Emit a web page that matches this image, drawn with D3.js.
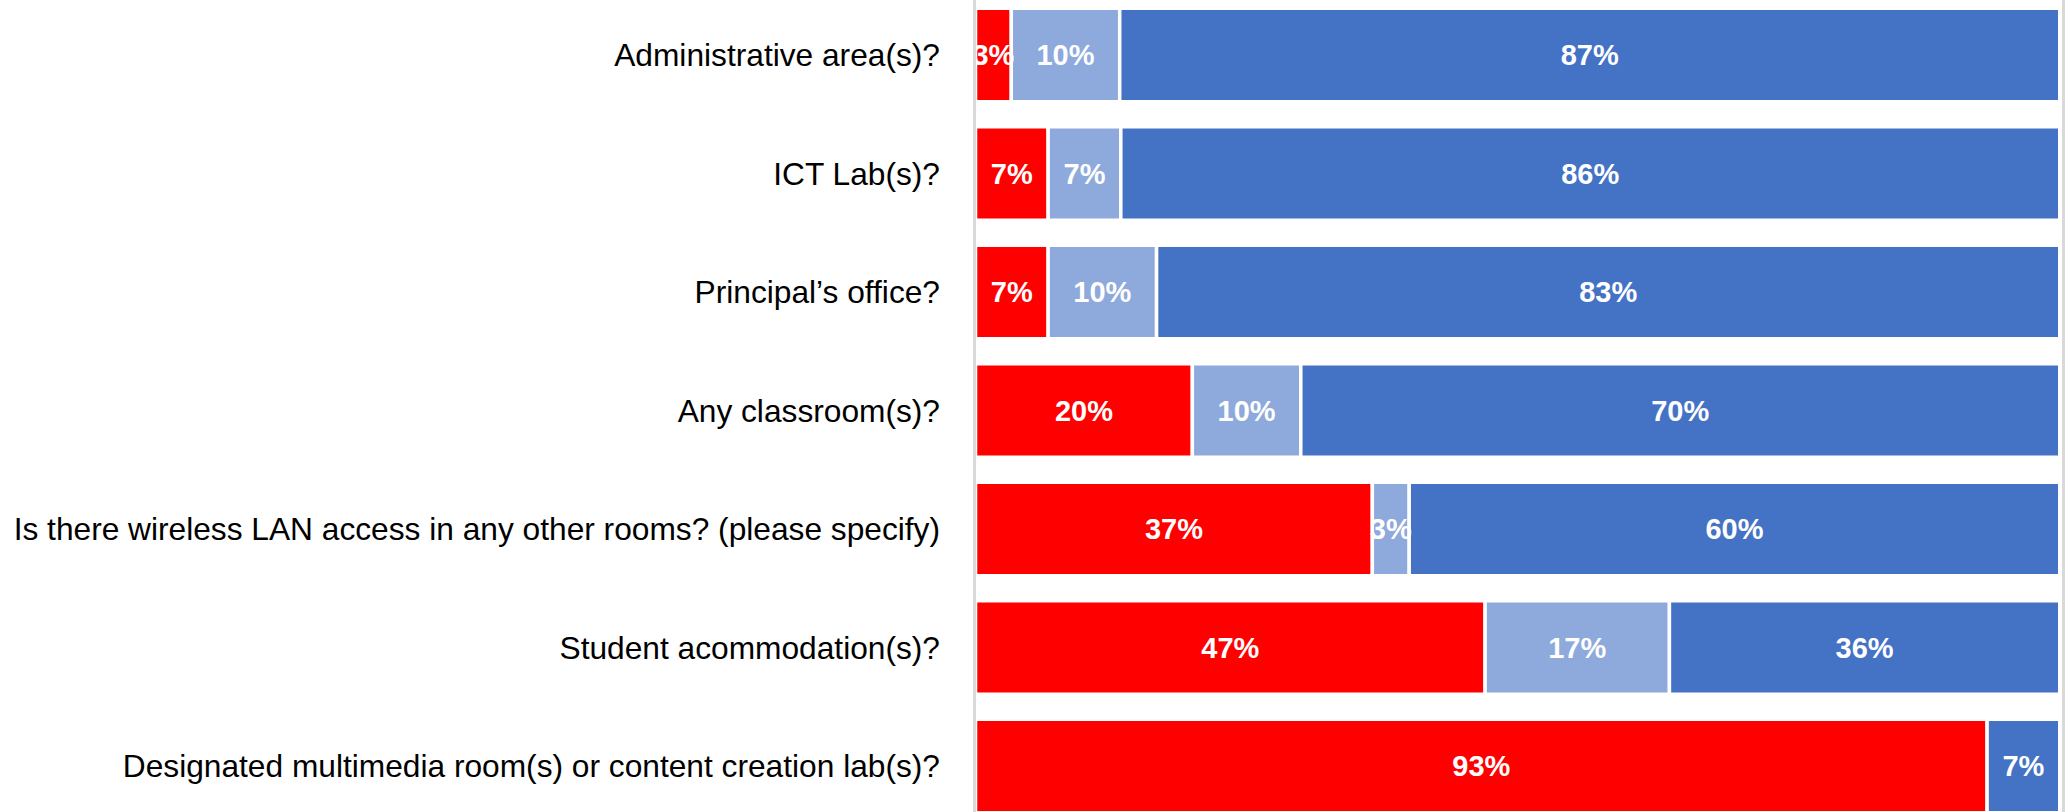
<!DOCTYPE html>
<html>
<head>
<meta charset="utf-8">
<script src="https://cdn.jsdelivr.net/npm/d3@7"></script>
<style>
  html, body { margin: 0; padding: 0; background: #fff; }
  svg { display: block; }
</style>
</head>
<body>
<script>
// questions, top to bottom
var categories = [
  "Administrative area(s)?",
  "ICT Lab(s)?",
  "Principal\u2019s office?",
  "Any classroom(s)?",
  "Is there wireless LAN access in any other rooms? (please specify)",
  "Student acommodation(s)?",
  "Designated multimedia room(s) or content creation lab(s)?"
];

// percent of answers per question (bar widths)
var noValues = [3.3, 6.7, 6.7, 20, 36.6, 47, 93.3];
var dontKnowValues = [10, 6.7, 10, 10, 3.4, 17, 0];
var yesValues = [86.7, 86.6, 83.3, 70, 60, 36, 6.7];

// the data labels as printed on the bars
var noLabels = ["3%", "7%", "7%", "20%", "37%", "47%", "93%"];
var dontKnowLabels = ["10%", "7%", "10%", "10%", "3%", "17%", ""];
var yesLabels = ["87%", "86%", "83%", "70%", "60%", "36%", "7%"];

var seriesNames = ["No", "Don't know", "Yes"];
var seriesColors = ["#ff0000", "#8ea9db", "#4472c4"];

(function() {
  var width = 2065;
  var height = 812;

  var svg = d3.select("body")
    .append("svg")
    .attr("width", width)
    .attr("height", height)

  var rows = categories.map(function(c, i) {
    return {
      question: c,
      No: noValues[i], "Don't know": dontKnowValues[i], Yes: yesValues[i],
      labels: { No: noLabels[i], "Don't know": dontKnowLabels[i], Yes: yesLabels[i] }
    };
  });

  var stack = d3.stack().keys(seriesNames)(rows);

  var x = d3.scaleLinear().domain([0, 100]).range([975.5, 2059.75]);
  var y = d3.scaleBand()
    .domain(categories)
    .range([-4.25, 825.25])
    .paddingInner(0.211)
    .paddingOuter(0.1055);

  var color = d3.scaleOrdinal().domain(seriesNames).range(seriesColors);

  // bars
  var layers = svg.selectAll(".layer")
    .data(stack)
    .enter().append("g")
    .attr("class", "layer")
    .attr("fill", function(d) { return color(d.key); });

  layers.selectAll("rect")
    .data(function(d) { return d; })
    .enter().append("rect")
    .attr("x", function(d) { return x(d[0]); })
    .attr("y", function(d) { return y(d.data.question); })
    .attr("width", function(d) { return x(d[1]) - x(d[0]); })
    .attr("height", y.bandwidth())
    .attr("stroke", "#fff")
    .attr("stroke-width", 3.5)
    .style("display", function(d) { return d[1] - d[0] > 0 ? null : "none"; });

  // value labels on top of all bars
  var labels = svg.append("g")
    .attr("font-family", "'Liberation Sans', Arial, sans-serif")
    .attr("font-size", 29)
    .attr("font-weight", "bold")
    .attr("fill", "#fff")
    .attr("text-anchor", "middle");

  stack.forEach(function(layer) {
    labels.selectAll(null)
      .data(layer.filter(function(d) { return d[1] - d[0] > 0; }))
      .enter().append("text")
      .attr("x", function(d) { return (x(d[0]) + x(d[1])) / 2; })
      .attr("y", function(d) { return y(d.data.question) + y.bandwidth() / 2; })
      .attr("dy", "0.36em")
      .text(function(d) { return d.data.labels[layer.key]; });
  });

  // category axis
  var yAxis = svg.append("g")
    .attr("transform", "translate(974.5,0)")
    .call(d3.axisLeft(y).tickSize(0).tickPadding(34.5));

  yAxis.select(".domain").remove();
  yAxis.selectAll("text")
    .attr("font-family", "'Liberation Sans', Arial, sans-serif")
    .attr("font-size", 31.7)
    .attr("fill", "#000")
    .attr("dy", "0.36em");

  svg.append("line")
    .attr("x1", 974.5).attr("x2", 974.5)
    .attr("y1", 0).attr("y2", height)
    .attr("stroke", "#d9d9d9")
    .attr("stroke-width", 3);

  svg.append("line")
    .attr("x1", 2063.5).attr("x2", 2063.5)
    .attr("y1", 0).attr("y2", height)
    .attr("stroke", "#d9d9d9")
    .attr("stroke-width", 3);
})();
</script>
</body>
</html>
